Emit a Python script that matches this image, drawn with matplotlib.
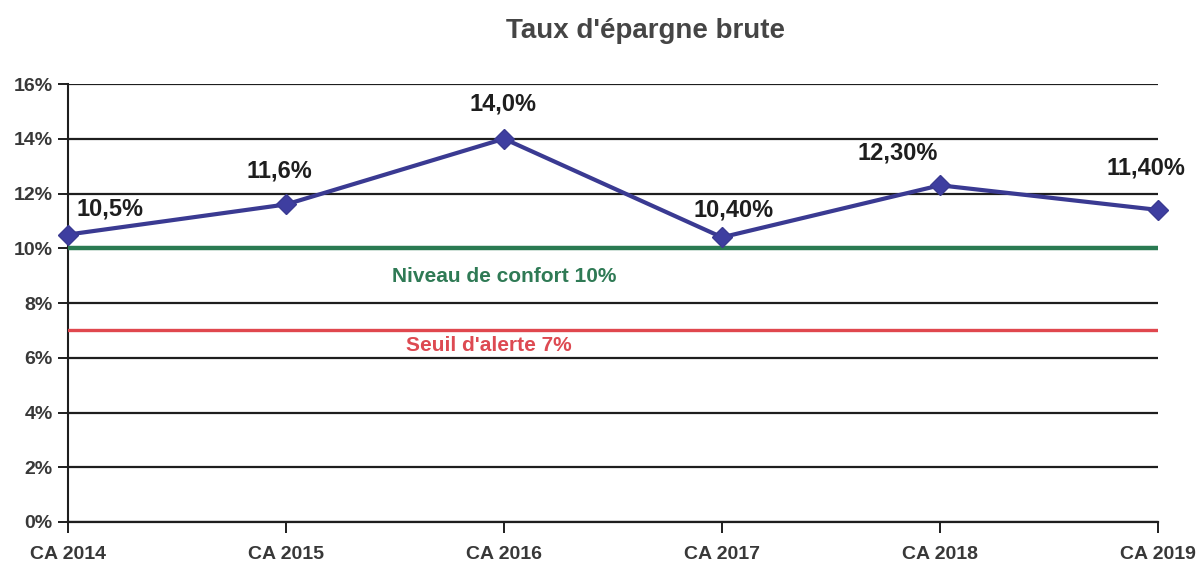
import matplotlib
matplotlib.use("Agg")
import matplotlib.pyplot as plt
import numpy as np

# data
years = ["CA 2014", "CA 2015", "CA 2016", "CA 2017", "CA 2018", "CA 2019"]
taux = [10.5, 11.6, 14.0, 10.4, 12.3, 11.4]
labels = ["10,5%", "11,6%", "14,0%", "10,40%", "12,30%", "11,40%"]
confort = 10
alerte = 7
yticks = [0, 2, 4, 6, 8, 10, 12, 14, 16]

plt.rcParams['font.family'] = ['Liberation Sans', 'DejaVu Sans']

fig = plt.figure(figsize=(12.02, 5.66), dpi=100)
ax = fig.add_axes([68 / 1202, 1 - 522 / 566, (1158 - 68) / 1202, (522 - 84) / 566])

x = np.arange(len(years))

ax.set_xlim(0, len(years) - 1)
ax.set_ylim(0, 16)
ax.set_yticks(yticks)
ax.set_yticklabels([f"{v}%" for v in yticks], fontsize=14, fontweight='bold', color='#383838')
ax.set_xticks(x)
ax.set_xticklabels(years, fontsize=14, fontweight='bold', color='#383838')
ax.tick_params(axis='y', length=7, width=1.4, color='#1e1e1e', pad=4)
ax.tick_params(axis='x', length=8, width=1.4, color='#1e1e1e', pad=9)

ax.yaxis.grid(True, color='#1e1e1e', linewidth=1.6)
ax.set_axisbelow(True)
for s in ['top', 'right']:
    ax.spines[s].set_visible(False)
ax.spines['left'].set_color('#1e1e1e')
ax.spines['left'].set_linewidth(1.5)
ax.spines['bottom'].set_color('#1e1e1e')
ax.spines['bottom'].set_linewidth(1.6)

# seuils
ax.axhline(confort, color='#2a7a52', linewidth=3.2, zorder=3)
ax.axhline(alerte, color='#e0474e', linewidth=2.4, zorder=3)
ax.text(2.0, confort - 1.03, f"Niveau de confort {confort}%", ha='center', va='center',
        fontsize=15, fontweight='bold', color='#2f7a55')
ax.text(1.93, alerte - 0.57, f"Seuil d'alerte {alerte}%", ha='center', va='center',
        fontsize=15, fontweight='bold', color='#dd4a52')

ax.plot(x, taux, color='#3a3a92', linewidth=3, marker='D', markersize=10,
        markerfacecolor='#3e3ea0', markeredgecolor='#3a3a92', zorder=5, clip_on=False)

# data labels (offsets in points)
offsets = [(30, 18.5), (-5, 24), (-1, 25), (8, 20), (-30.5, 23), (-9, 30.5)]
for xi, yi, lab, off in zip(x, taux, labels, offsets):
    ax.annotate(lab, (xi, yi), xytext=off, textcoords='offset points',
                ha='center', va='center', fontsize=17, fontweight='bold', color='#1e1e1e')

fig.text(646 / 1202, 1 - 31 / 566, "Taux d'épargne brute", ha='center', va='center',
         fontsize=20, fontweight='bold', color='#454545')

fig.savefig("out.png", dpi=100)
